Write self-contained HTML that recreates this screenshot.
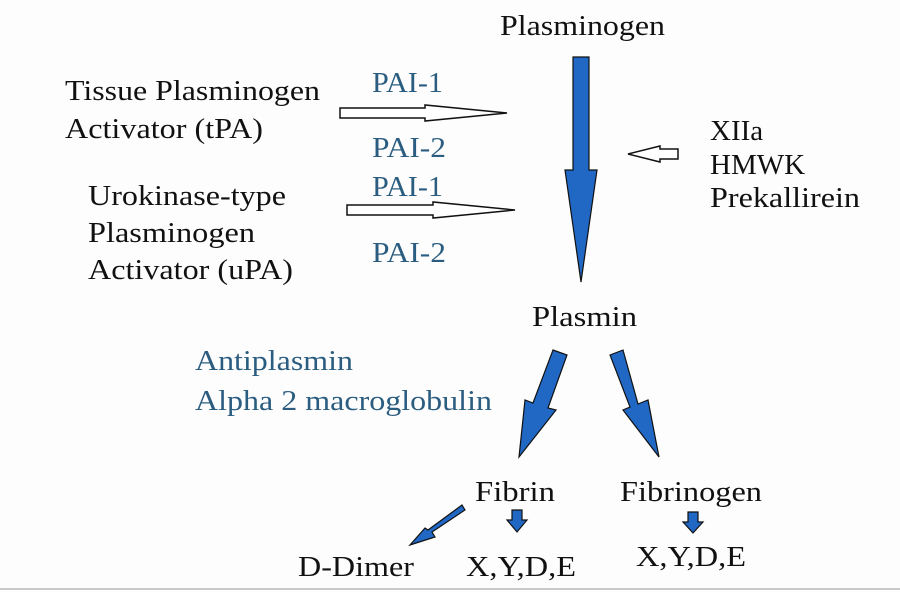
<!DOCTYPE html>
<html><head><meta charset="utf-8"><style>
html,body{margin:0;padding:0;background:#fdfdfd;}
svg{display:block;}
text{font-family:"Liberation Serif",serif;font-size:29px;fill:#111;}
.b{fill:#2b5d80;}
</style></head><body>
<svg width="900" height="592" viewBox="0 0 900 592">
<rect width="900" height="592" fill="#fdfdfd"/>
<line x1="0" y1="589" x2="900" y2="589" stroke="#c8c8c8" stroke-width="2"/>
<text x="500" y="35" textLength="165" lengthAdjust="spacingAndGlyphs">Plasminogen</text>
<text x="65" y="100" textLength="255" lengthAdjust="spacingAndGlyphs">Tissue Plasminogen</text>
<text x="65" y="138" textLength="198" lengthAdjust="spacingAndGlyphs">Activator (tPA)</text>
<text x="88" y="205" textLength="198" lengthAdjust="spacingAndGlyphs">Urokinase-type</text>
<text x="88" y="242" textLength="167" lengthAdjust="spacingAndGlyphs">Plasminogen</text>
<text x="88" y="279" textLength="205" lengthAdjust="spacingAndGlyphs">Activator (uPA)</text>
<text class="b" x="372" y="92" textLength="71" lengthAdjust="spacingAndGlyphs">PAI-1</text>
<text class="b" x="372" y="157" textLength="74" lengthAdjust="spacingAndGlyphs">PAI-2</text>
<text class="b" x="372" y="196" textLength="71" lengthAdjust="spacingAndGlyphs">PAI-1</text>
<text class="b" x="372" y="262" textLength="74" lengthAdjust="spacingAndGlyphs">PAI-2</text>
<text x="710" y="140">XIIa</text>
<text x="710" y="174">HMWK</text>
<text x="710" y="207" textLength="150" lengthAdjust="spacingAndGlyphs">Prekallirein</text>
<text x="532" y="326" textLength="105" lengthAdjust="spacingAndGlyphs">Plasmin</text>
<text class="b" x="195" y="370" textLength="158" lengthAdjust="spacingAndGlyphs">Antiplasmin</text>
<text class="b" x="195" y="410" textLength="297" lengthAdjust="spacingAndGlyphs">Alpha 2 macroglobulin</text>
<text x="475" y="501" textLength="80" lengthAdjust="spacingAndGlyphs">Fibrin</text>
<text x="620" y="501" textLength="142" lengthAdjust="spacingAndGlyphs">Fibrinogen</text>
<text x="298" y="576" textLength="116" lengthAdjust="spacingAndGlyphs">D-Dimer</text>
<text x="466" y="576" textLength="110" lengthAdjust="spacingAndGlyphs">X,Y,D,E</text>
<text x="636" y="566" textLength="110" lengthAdjust="spacingAndGlyphs">X,Y,D,E</text>
<g stroke="#111" stroke-width="1.5" stroke-linejoin="miter">
<polygon fill="#fff" points="340,108 425,108 425,105 507,113 425,121 425,118 340,118"/>
<polygon fill="#fff" points="347,205 433,205 433,202 515,210 433,218 433,215 347,215"/>
<polygon fill="#fff" points="678,149 660,149 660,146 628,154 660,162 660,159 678,159"/>
</g>
<g fill="#2167c4" stroke="#111" stroke-width="1.2">
<polygon points="573,57 589,57 589,170 597,170 581,282 565,170 573,170"/>
<polygon points="553,350 567,355 548,408 556,410 519,457 525,400 533,403"/>
<polygon points="610,355 623,350 638,404 648,400 659,457 623,410 630,407"/>
<polygon points="512,510 522,510 522,520 527,520 517,532 507,520 512,520"/>
<polygon points="688,512 698,512 698,522 703,522 693,533 683,522 688,522"/>
<polygon points="462,505 465,510 432,532 435,537 410,545 425,528 428,530"/>
</g>
</svg>
</body></html>
